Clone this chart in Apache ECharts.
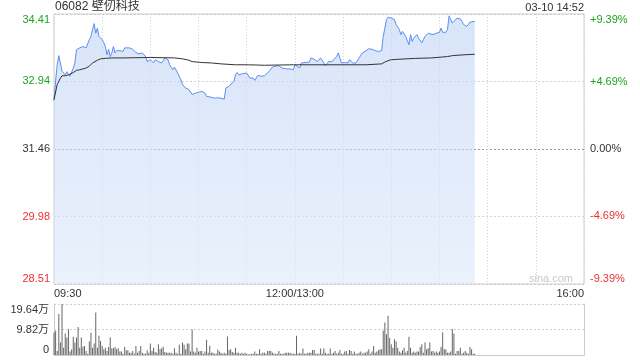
<!DOCTYPE html>
<html><head><meta charset="utf-8">
<script src="https://cdn.jsdelivr.net/npm/echarts@6/dist/echarts.min.js"></script>
<style>html,body{margin:0;padding:0;background:#fff}#c{width:640px;height:360px}</style>
</head><body><div id="c"></div><script>
const stockTitle = '06082 壁仞科技';
const timeStamp = '03-10 14:52';
const watermark = 'sina.com';
const prevClose = 31.46;
const priceTicks = [28.51, 29.98, 31.46, 32.94, 34.41];
const pctTicks = [-9.39, -4.69, 0, 4.69, 9.39];
const pctLabels = ['-9.39%', '-4.69%', '0.00%', '+4.69%', '+9.39%'];
const timeTicks = [0, 150, 330];
const timeLabels = ['09:30', '12:00/13:00', '16:00'];
const volTicks = [0, 9.82, 19.64];
const volLabels = ['0', '9.82万', '19.64万'];

const priceMinutes = [0,1,2,3,5,6,7,8,9,10,12,13,14,16,18,19,20,22,23,24,25,26,27,28,30,31,32,33,34,35,36,37,38,39,41,43,44,45,47,49,51,52,53,55,57,58,60,62,63,65,67,69,70,71,72,74,75,76,77,78,79,80,82,84,85,86,87,88,90,92,94,95,96,98,100,102,104,106,107,109,110,112,113,114,115,116,118,120,122,124,125,127,129,131,132,134,136,138,140,142,143,145,147,149,150,151,153,154,155,157,159,160,161,162,164,166,167,168,169,170,171,173,174,176,177,178,179,181,183,184,185,186,188,190,192,194,196,198,200,202,204,205,206,207,208,209,210,211,212,213,214,215,216,217,218,219,221,222,223,224,225,226,227,228,229,230,231,232,233,234,236,238,240,241,242,244,245,246,248,249,251,253,254,255,256,257,258,259,260,262];
const prices = [32.52,32.95,33.30,33.50,33.16,33.19,33.08,33.15,33.19,33.05,33.23,33.34,33.63,33.67,33.70,33.74,33.67,33.85,33.92,34.07,34.20,33.99,34.10,33.92,33.85,33.78,33.70,33.52,33.64,33.48,33.56,33.70,33.56,33.61,33.61,33.59,33.67,33.64,33.67,33.64,33.57,33.59,33.54,33.56,33.48,33.37,33.41,33.34,33.41,33.37,33.34,33.45,33.46,33.41,33.30,33.19,33.25,33.23,33.12,33.08,32.97,32.87,32.79,32.76,32.72,32.65,32.67,32.68,32.70,32.72,32.68,32.61,32.57,32.59,32.57,32.58,32.57,32.55,32.79,32.83,32.84,32.94,33.08,33.13,33.08,33.05,33.11,33.12,33.01,33.01,32.96,33.07,33.05,33.06,33.02,33.16,33.25,33.27,33.28,33.23,33.25,33.21,33.21,33.19,33.30,33.27,33.23,33.34,33.35,33.35,33.36,33.45,33.41,33.42,33.37,33.45,33.42,33.34,33.28,33.30,33.37,33.37,33.41,33.48,33.56,33.45,33.34,33.35,33.34,33.41,33.42,33.34,33.34,33.45,33.56,33.60,33.65,33.64,33.61,33.59,33.61,33.92,34.10,34.29,34.34,34.30,34.32,34.34,34.29,34.18,34.14,34.07,33.96,34.03,33.99,33.92,33.74,33.96,33.81,33.88,33.85,33.96,33.88,33.85,33.78,33.85,33.92,33.96,33.99,33.96,33.96,33.99,34.01,34.10,34.01,34.01,34.07,34.37,34.21,34.25,34.32,34.30,34.25,34.18,34.18,34.14,34.16,34.23,34.25,34.25];

const avgMinutes = [0,2,4,5,7,9,10,12,14,16,18,20,22,24,27,29,32,36,43,60,75,80,84,86,92,98,104,113,121,131,149,170,194,204,206,208,210,214,225,235,245,248,256,262];
const avgPrices = [32.54,32.87,33.01,33.06,33.06,33.08,33.10,33.13,33.18,33.19,33.21,33.23,33.27,33.34,33.40,33.43,33.44,33.45,33.45,33.46,33.45,33.43,33.40,33.37,33.35,33.34,33.32,33.30,33.30,33.29,33.30,33.30,33.30,33.32,33.36,33.39,33.41,33.42,33.44,33.45,33.48,33.50,33.52,33.53];

// per-minute volume (万), from 09:30
const volumes = [
8.66,9.30,1.5,15.76,4.8,19.6,2.8,8.3,6.7,9.9,
1.3,2.2,7.0,4.8,6.7,10.8,2.8,6.7,3.2,3.5,
1.5,0.5,5.2,8.6,2.8,4.4,16.4,2.8,7.4,5.4,
3.5,2.2,2.8,1.5,3.1,6.7,2.6,2.6,3.1,2.2,
2.6,1.3,1.3,0.5,3.1,1.8,1.8,0.9,0.9,1.5,
0.5,3.5,0.9,1.5,3.5,0.9,0.5,0.5,1.8,0.9,
4.4,1.5,2.8,1.2,0.9,4.1,2.2,2.6,3.2,1.2,
0.9,0.9,0.9,0.9,0.5,2.6,0.9,0.5,3.9,0.5,
4.8,3.9,2.2,4.4,4.4,1.3,9.8,1.3,0.9,2.8,
1.3,1.5,1.5,0.5,1.3,5.9,0.9,3.6,0.9,0.9,
0.5,0.5,2.1,1.3,0.9,0.5,0.9,0.5,7.1,1.8,
2.2,1.2,0.9,2.8,0.9,0.9,0.5,0.9,0.5,0.9,
0.5,0.3,0.3,0.5,0.5,1.3,0.5,0.5,2.2,0.5,
0.9,0.9,0.5,1.5,1.5,1.5,0.9,0.5,0.5,0.5,
1.5,0.5,0.5,0.5,0.9,0.9,0.9,0.9,0.5,0.5,
0.5,7.4,0.5,0.9,0.5,2.5,0.5,0.5,0.9,0.9,
0.9,1.9,1.9,0.5,0.5,0.5,2.5,0.5,2.5,0.9,
0.5,0.5,2.5,0.5,0.9,1.5,0.5,0.9,1.9,0.5,
0.5,1.3,1.5,0.5,1.9,1.5,0.5,1.3,0.5,0.5,
0.9,1.3,0.5,0.9,0.9,1.3,2.2,0.5,1.3,3.5,
0.9,1.3,1.8,2.2,2.2,9.3,12.5,8.0,15.1,6.5,
4.1,2.8,6.1,5.2,2.8,1.3,0.9,1.8,2.8,0.9,
1.5,7.0,2.8,0.9,1.3,0.9,1.3,1.3,3.1,4.1,
0.9,4.8,2.2,2.6,4.8,1.3,1.5,0.9,1.3,0.9,
1.3,3.1,8.7,2.2,2.2,0.9,0.9,1.3,10.0,8.3,
0.5,1.5,1.5,2.8,0.5,0.9,1.5,0.9,0.5,3.1,
2.2,0.5,0.5];

const FONT = 'Arial, "Liberation Sans", "Noto Sans CJK SC", sans-serif';
const GREEN = '#1ea51e', RED = '#ee3030', DARK = '#333';
function nearestIdx(arr, v) { let b = 0; for (let i = 1; i < arr.length; i++) if (Math.abs(arr[i] - v) < Math.abs(arr[b] - v)) b = i; return b; }

const chart = echarts.init(document.getElementById('c'), null, { renderer: 'canvas' });
chart.setOption({
  animation: false,
  backgroundColor: '#fff',
  textStyle: { fontFamily: FONT },
  title: [
    { text: stockTitle, left: 55, top: 1, padding: 0, textStyle: { fontSize: 12, fontWeight: 'normal', color: DARK, fontFamily: FONT } },
    { text: timeStamp, right: 56, top: 2, padding: 0, textStyle: { fontSize: 11, fontWeight: 'normal', color: DARK, fontFamily: FONT } },
    { text: watermark, right: 67, top: 273, padding: 0, textStyle: { fontSize: 11, fontWeight: 'normal', color: '#c8c8c8', fontFamily: FONT } }
  ],
  grid: [
    { left: 54, right: 56, top: 14, height: 270, show: true, borderColor: '#ccc', borderWidth: 1, containLabel: false, outerBoundsMode: 'none' },
    { left: 54, right: 56, top: 304, height: 51, containLabel: false, outerBoundsMode: 'none' }
  ],
  xAxis: [
    { type: 'value', gridIndex: 0, min: 0, max: 330, interval: 30,
      axisLine: { show: false }, axisTick: { show: false },
      splitLine: { show: true, lineStyle: { color: '#d4d4d4', type: [1, 2], width: 1 } },
      axisLabel: { customValues: timeTicks, formatter: v => timeLabels[nearestIdx(timeTicks, v)], color: DARK, fontSize: 11, fontFamily: FONT, margin: 4, alignMinLabel: 'left', alignMaxLabel: 'right' } },
    { type: 'value', gridIndex: 1, min: 0, max: 330, interval: 30,
      axisLine: { show: true, lineStyle: { color: '#ccc' } }, axisTick: { show: false },
      splitLine: { show: false }, axisLabel: { show: false } }
  ],
  yAxis: [
    { type: 'value', gridIndex: 0, position: 'left', min: 28.51, max: 34.41,
      axisLine: { show: false }, axisTick: { show: false, customValues: priceTicks },
      axisLabel: { customValues: priceTicks, formatter: v => priceTicks[nearestIdx(priceTicks, v)].toFixed(2),
        color: v => { const p = priceTicks[nearestIdx(priceTicks, v)]; return p > prevClose ? GREEN : (p < prevClose ? RED : DARK); },
        fontSize: 11, fontFamily: FONT, margin: 4, verticalAlignMinLabel: 'bottom', verticalAlignMaxLabel: 'top' },
      splitLine: { show: true, lineStyle: { color: ['#ccc', '#d4d4d4', '#999', '#d4d4d4', '#ccc'], type: [2, 2], width: 1 } } },
    { type: 'value', gridIndex: 0, position: 'right', min: -9.39, max: 9.39,
      axisLine: { show: false }, axisTick: { show: false, customValues: pctTicks },
      axisLabel: { customValues: pctTicks, formatter: v => pctLabels[nearestIdx(pctTicks, v)],
        color: v => { const p = pctTicks[nearestIdx(pctTicks, v)]; return p > 0 ? GREEN : (p < 0 ? RED : DARK); },
        fontSize: 11, fontFamily: FONT, margin: 6, verticalAlignMinLabel: 'bottom', verticalAlignMaxLabel: 'top' },
      splitLine: { show: false } },
    { type: 'value', gridIndex: 1, position: 'left', min: 0, max: 19.64,
      axisLine: { show: true, lineStyle: { color: '#ccc' } }, axisTick: { show: false, customValues: volTicks },
      axisLabel: { customValues: volTicks, formatter: v => volLabels[nearestIdx(volTicks, v)], color: DARK, fontSize: 11, fontFamily: FONT, margin: 5,
        verticalAlignMinLabel: 'bottom', verticalAlignMaxLabel: 'top' },
      splitLine: { show: true, lineStyle: { color: '#cfcfcf', type: [2, 2], width: 1 } } },
    { type: 'value', gridIndex: 1, position: 'right', min: 0, max: 1,
      axisLine: { show: true, lineStyle: { color: '#ccc' } }, axisTick: { show: false },
      axisLabel: { show: false }, splitLine: { show: false } }
  ],
  series: [
    { type: 'line', name: 'price', xAxisIndex: 0, yAxisIndex: 0, showSymbol: false, symbol: 'none',
      data: priceMinutes.map((t, i) => [t, prices[i]]),
      lineStyle: { color: '#5a8ff0', width: 1 },
      areaStyle: { origin: 'start', color: new echarts.graphic.LinearGradient(0, 0, 0, 1, [
        { offset: 0, color: 'rgba(190,210,245,0.85)' }, { offset: 1, color: 'rgba(220,232,250,0.85)' }]) },
      z: 3 },
    { type: 'line', name: 'avg', xAxisIndex: 0, yAxisIndex: 0, showSymbol: false, symbol: 'none',
      data: avgMinutes.map((t, i) => [t, avgPrices[i]]),
      lineStyle: { color: '#333', width: 1 }, z: 4 },
    { type: 'bar', name: 'volume', xAxisIndex: 1, yAxisIndex: 2, barWidth: 1,
      data: volumes.map((v, i) => [i, v]),
      itemStyle: { color: '#666' } }
  ]
});
</script></body></html>
